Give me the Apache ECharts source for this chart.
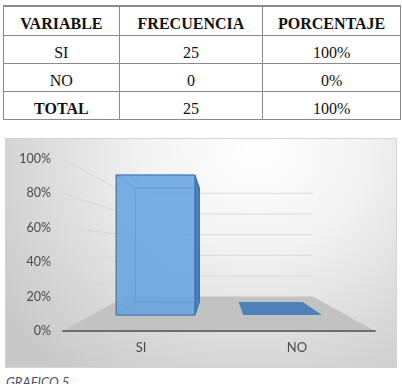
<!DOCTYPE html>
<html>
<head>
<meta charset="utf-8">
<script src="https://cdn.jsdelivr.net/npm/echarts@6/dist/echarts.min.js"></script>
<style>
  html, body { margin: 0; padding: 0; background: #fff; width: 402px; height: 384px; overflow: hidden; }
  #tbl {
    position: absolute; left: 3px; top: 5px; width: 398px;
    border-collapse: collapse; color: #111;
  }
  #tbl td {
    font-family: "Liberation Serif", "Times New Roman", "DejaVu Serif", serif; font-size: 16px;
    border: 1px solid #8a8a8a; text-align: center; padding: 7px 0 0 0; line-height: 20px;
  }
  #tbl tr:first-child td { font-weight: bold; border-top-width: 2px; }
  #tbl tr:last-child td:first-child { font-weight: bold; }
  #chart {
    position: absolute; left: 5px; top: 138px; width: 392px; height: 230px;
    border: 1px solid #d4d4d4; box-sizing: border-box;
    background: radial-gradient(ellipse 80% 125% at 64% 4%, #ffffff 0%, #f3f3f3 35%, #d9d9d9 72%, #c8c8c8 100%);
  }
  #cap {
    position: absolute; left: 6px; top: 374px;
    font-family: Lato, sans-serif; font-style: italic; font-size: 13px; color: #44546a;
  }
</style>
</head>
<body>
<table id="tbl"></table>
<div id="chart"></div>
<div id="cap">GRAFICO 5</div>
<script>
// table content
const tableHeader = ['VARIABLE', 'FRECUENCIA', 'PORCENTAJE'];
const variables = ['SI', 'NO', 'TOTAL'];
const frequencies = [25, 0, 25];
const percentText = ['100%', '0%', '100%'];

// chart content
const categories = ['SI', 'NO'];
const shares = [1.0, 0.0];
const yTicks = [0, 0.2, 0.4, 0.6, 0.8, 1.0];

// fake 3d depth (scale towards vanishing point)
const S_BAR_FRONT = 0.814;
const S_BAR_BACK = 0.662;
const S_WALL = 0.6;

const colWidths = [116, 144, 138];
const rowHeights = [29, 28, 28, 28];

function buildTable() {
  const t = document.getElementById('tbl');
  const rowsData = [tableHeader].concat(variables.map((v, i) => [v, frequencies[i], percentText[i]]));
  t.innerHTML = rowsData.map((r, ri) =>
    '<tr style="height:' + rowHeights[ri] + 'px">' +
    r.map((c, ci) => '<td style="width:' + colWidths[ci] + 'px">' + c + '</td>').join('') +
    '</tr>').join('');
}
buildTable();

const chart = echarts.init(document.getElementById('chart'));

function vanish(params, api) {
  const cs = params.coordSys;
  return [cs.x + cs.width / 2, api.coord([0, 0.5])[1]];
}
function proj(V, x, y, s) {
  return [V[0] + s * (x - V[0]), V[1] + s * (y - V[1])];
}

function renderWall(params, api) {
  const cs = params.coordSys;
  const V = vanish(params, api);
  const v = api.value(1);
  const y = api.coord([0, v])[1];
  const bl = proj(V, cs.x, y, S_WALL);
  const br = proj(V, cs.x + cs.width, y, S_WALL);
  const children = [];
  if (v > 0) {
    children.push({ type: 'line', shape: { x1: cs.x, y1: y, x2: bl[0], y2: bl[1] },
      style: { stroke: '#d6d6d6', lineWidth: 1 } });
    children.push({ type: 'line', shape: { x1: bl[0], y1: bl[1], x2: br[0], y2: br[1] },
      style: { stroke: '#d9d9d9', lineWidth: 1 } });
  }
  return { type: 'group', children };
}

function renderFloor(params, api) {
  const cs = params.coordSys;
  const V = vanish(params, api);
  const y0 = api.coord([0, 0])[1];
  const xl = cs.x, xr = cs.x + cs.width;
  return {
    type: 'polygon',
    shape: { points: [[xl, y0], [xr, y0], proj(V, xr, y0, S_WALL), proj(V, xl, y0, S_WALL)] },
    style: { fill: '#c2c2c2' }
  };
}

function renderBar(params, api) {
  const V = vanish(params, api);
  const i = api.value(0), v = api.value(1);
  const base = api.coord([i, 0]);
  const y0 = base[1];
  const yt = api.coord([i, v])[1];
  const half = api.size([1, 0])[0] * 0.31;
  const xl = base[0] - half, xr = base[0] + half;
  const P = (x, y, s) => proj(V, x, y, s);
  const fbl = P(xl, y0, S_BAR_FRONT), fbr = P(xr, y0, S_BAR_FRONT);
  const ftl = P(xl, yt, S_BAR_FRONT), ftr = P(xr, yt, S_BAR_FRONT);
  const bbl = P(xl, y0, S_BAR_BACK), bbr = P(xr, y0, S_BAR_BACK);
  const btl = P(xl, yt, S_BAR_BACK), btr = P(xr, yt, S_BAR_BACK);
  if (v <= 0) {
    return { type: 'polygon', shape: { points: [fbl, fbr, bbr, bbl] },
      style: { fill: '#4f81b9' } };
  }
  const inner = { fill: 'rgba(80,140,205,0.30)', stroke: 'rgba(45,95,155,0.45)', lineWidth: 1 };
  return {
    type: 'group',
    children: [
      { type: 'polygon', shape: { points: [bbl, bbr, btr, btl] }, style: inner },
      { type: 'polygon', shape: { points: [fbl, ftl, btl, bbl] }, style: inner },
      { type: 'polygon', shape: { points: [fbl, fbr, bbr, bbl] }, style: inner },
      { type: 'polygon', shape: { points: [ftl, ftr, btr, btl] }, style: inner },
      { type: 'polygon', shape: { points: [fbr, ftr, btr, bbr] },
        style: { fill: '#4a7fb9', stroke: '#3c6ea5', lineWidth: 1 } },
      { type: 'polygon', shape: { points: [fbl, fbr, ftr, ftl] },
        style: { fill: 'rgba(105,166,224,0.82)', stroke: '#3f74ad', lineWidth: 1 } }
    ]
  };
}

chart.setOption({
  animation: false,
  backgroundColor: 'transparent',
  grid: { left: 57, right: 21, top: 20, height: 172 },
  xAxis: {
    type: 'category', data: categories, z: 10,
    axisLine: { lineStyle: { color: '#6e6e6e', width: 2 } },
    axisTick: { show: false },
    axisLabel: { color: '#4a4a4a', fontSize: 13, fontFamily: 'Lato', margin: 10 }
  },
  yAxis: {
    type: 'value', min: 0, max: 1, interval: 0.2,
    axisLine: { show: false }, axisTick: { show: false }, splitLine: { show: false },
    axisLabel: { color: '#4a4a4a', fontSize: 12.5, fontFamily: 'Lato', margin: 12,
      formatter: v => Math.round(v * 100) + '%' }
  },
  series: [
    { type: 'custom', name: 'walls', renderItem: renderWall, data: yTicks.map(v => [0, v]), z: 1, silent: true },
    { type: 'custom', name: 'floor', renderItem: renderFloor, data: [[0, 0]], z: 2, silent: true },
    { type: 'custom', name: 'porcentaje', renderItem: renderBar,
      data: categories.map((c, i) => [i, shares[i]]), z: 3 }
  ]
});
</script>
</body>
</html>
